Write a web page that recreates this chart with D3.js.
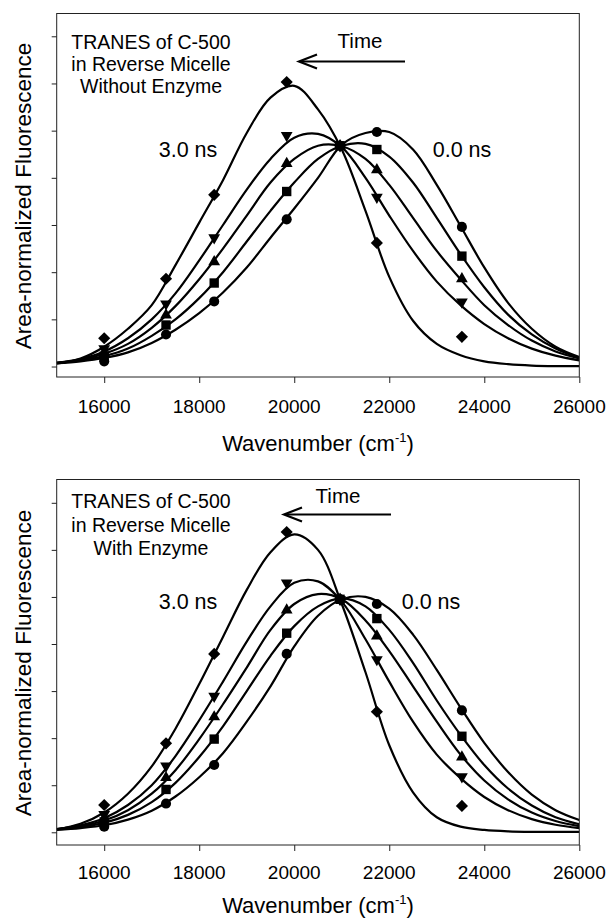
<!DOCTYPE html>
<html>
<head>
<meta charset="utf-8">
<script src="https://cdn.jsdelivr.net/npm/d3@7"></script>
<style>
  html, body { margin: 0; padding: 0; background: #fff; }
  svg { display: block; }
  text { font-family: "Liberation Sans", Arial, sans-serif; fill: #000; }
</style>
</head>
<body>
<svg id="chart" width="610" height="922"></svg>
<script>
// ---- Data -------------------------------------------------------------
// Wavenumbers (cm^-1) at which the time-resolved spectra were sampled
const markerWavenumbers = [16000, 17301, 18315, 19841, 20964, 21739, 23529];
// Wavenumbers used to trace the fitted spectra
const curveWavenumbers = [15000, 15500, 16000, 16500, 17000, 17500, 18000, 18500,
  19000, 19500, 20000, 20500, 21000, 21500, 22000, 22500, 23000, 23500, 24000,
  24500, 25000, 25500, 26000];
const xTickValues = [16000, 18000, 20000, 22000, 24000, 26000];
const yTickValues = [0, 1, 2, 3, 4, 5, 6, 7];
const timeLabels = ["0.0 ns", "3.0 ns"];
const seriesSymbols = ["circle", "square", "triangleUp", "triangleDown", "diamond"];

// Reverse micelle without enzyme: measured points
const noEnzCirclePts   = [0.11, 0.68, 1.38, 3.12, 4.68, 4.97, 2.96];
const noEnzSquarePts   = [0.22, 0.88, 1.77, 3.71, 4.68, 4.60, 2.34];
const noEnzTriUpPts    = [0.30, 1.09, 2.22, 4.30, 4.68, 4.17, 1.86];
const noEnzTriDownPts  = [0.38, 1.33, 2.73, 4.90, 4.68, 3.59, 1.37];
const noEnzDiamondPts  = [0.60, 1.86, 3.64, 6.03, 4.68, 2.62, 0.63];
// Reverse micelle without enzyme: fitted spectra
const noEnzCircleFit   = [0.07,0.11,0.18,0.30,0.50,0.78,1.13,1.57,2.10,2.73,3.35,4.00,4.70,4.95,4.97,4.60,3.85,2.98,2.10,1.35,0.80,0.42,0.20];
const noEnzSquareFit   = [0.08,0.13,0.22,0.38,0.65,1.00,1.45,2.00,2.65,3.30,3.90,4.40,4.68,4.72,4.45,3.90,3.15,2.38,1.68,1.10,0.68,0.38,0.18];
const noEnzTriUpFit    = [0.08,0.14,0.27,0.48,0.82,1.28,1.85,2.50,3.20,3.90,4.40,4.68,4.67,4.40,3.85,3.15,2.45,1.85,1.30,0.88,0.55,0.32,0.17];
const noEnzTriDownFit  = [0.08,0.16,0.32,0.60,1.00,1.55,2.25,3.00,3.75,4.40,4.85,4.93,4.65,4.00,3.20,2.45,1.80,1.30,0.90,0.60,0.38,0.23,0.13];
const noEnzDiamondFit  = [0.06,0.17,0.42,0.80,1.30,2.15,3.05,3.95,4.95,5.70,5.95,5.45,4.60,3.30,1.90,0.97,0.48,0.24,0.11,0.05,0.02,0.01,0.01];

// Reverse micelle with enzyme: measured points
const enzCirclePts   = [0.12, 0.61, 1.43, 3.79, 4.95, 4.85, 2.59];
const enzSquarePts   = [0.22, 0.91, 1.98, 4.23, 4.95, 4.54, 2.04];
const enzTriUpPts    = [0.30, 1.16, 2.45, 4.72, 4.95, 4.17, 1.60];
const enzTriDownPts  = [0.38, 1.41, 2.89, 5.30, 4.95, 3.67, 1.18];
const enzDiamondPts  = [0.58, 1.89, 3.79, 6.38, 4.95, 2.56, 0.56];
// Reverse micelle with enzyme: fitted spectra
const enzCircleFit   = [0.05,0.09,0.15,0.27,0.46,0.76,1.17,1.68,2.35,3.10,3.95,4.60,4.95,5.00,4.75,4.20,3.45,2.65,1.90,1.28,0.80,0.47,0.26];
const enzSquareFit   = [0.06,0.11,0.20,0.37,0.64,1.05,1.60,2.25,3.00,3.75,4.38,4.80,4.97,4.80,4.30,3.60,2.80,2.07,1.43,0.93,0.57,0.32,0.17];
const enzTriUpFit    = [0.07,0.13,0.25,0.47,0.82,1.32,1.98,2.72,3.50,4.30,4.85,5.06,4.95,4.50,3.85,3.10,2.35,1.65,1.10,0.70,0.42,0.24,0.13];
const enzTriDownFit  = [0.07,0.15,0.30,0.58,1.00,1.62,2.38,3.20,4.05,4.80,5.30,5.33,4.90,4.10,3.20,2.35,1.65,1.15,0.75,0.47,0.28,0.16,0.09];
const enzDiamondFit  = [0.06,0.18,0.42,0.82,1.40,2.20,3.15,4.15,5.15,5.95,6.33,6.00,4.85,3.40,1.85,0.85,0.32,0.12,0.05,0.02,0.01,0.01,0.01];

// ---- Panels -----------------------------------------------------------
const panels = [
  {
    caption: ["TRANES of C-500", "in Reverse Micelle", "Without Enzyme"],
    points: [noEnzCirclePts, noEnzSquarePts, noEnzTriUpPts, noEnzTriDownPts, noEnzDiamondPts],
    fits: [noEnzCircleFit, noEnzSquareFit, noEnzTriUpFit, noEnzTriDownFit, noEnzDiamondFit],
    frameTop: 13.5, frameBottom: 377, yDomain: [-0.222, 7.483],
    captionX: 151, captionY: 48.5, captionStep: 22,
    timeX: 360, timeY: 47.5, arrowFrom: 405, arrowTo: 299, arrowY: 61.5,
    lateX: 188, earlyX: 462, nsY: 156.5,
    xTickLabelY: 412.5, xTitleY: 451, yTitleCY: 196
  },
  {
    caption: ["TRANES of C-500", "in Reverse Micelle", "With Enzyme"],
    points: [enzCirclePts, enzSquarePts, enzTriUpPts, enzTriDownPts, enzDiamondPts],
    fits: [enzCircleFit, enzSquareFit, enzTriUpFit, enzTriDownFit, enzDiamondFit],
    frameTop: 479.5, frameBottom: 845, yDomain: [-0.27, 7.495],
    captionX: 151, captionY: 508, captionStep: 23.5,
    timeX: 338, timeY: 503, arrowFrom: 391, arrowTo: 284, arrowY: 514.5,
    lateX: 188, earlyX: 431, nsY: 608.5,
    xTickLabelY: 878.5, xTitleY: 913, yTitleCY: 663
  }
];

const frameLeft = 56.7, frameRight = 579.3;
const svg = d3.select("#chart");

const symbolGen = {
  circle:       d3.symbol().type(d3.symbolCircle).size(80)(),
  square:       d3.symbol().type(d3.symbolSquare).size(88)(),
  triangleUp:   d3.symbol().type(d3.symbolTriangle).size(60)(),
  triangleDown: d3.symbol().type(d3.symbolTriangle).size(60)(),
  diamond:      d3.symbol().type(d3.symbolSquare).size(74)()
};
const symbolRotate = { circle: 0, square: 0, triangleUp: 0, triangleDown: 180, diamond: 45 };

panels.forEach((p, pi) => {
  const x = d3.scaleLinear().domain([15000, 26000]).range([frameLeft, frameRight]);
  const y = d3.scaleLinear().domain(p.yDomain).range([p.frameBottom, p.frameTop]);
  const g = svg.append("g");

  const clipId = "clip" + pi;
  g.append("clipPath").attr("id", clipId)
    .append("rect")
    .attr("x", frameLeft).attr("y", p.frameTop)
    .attr("width", frameRight - frameLeft).attr("height", p.frameBottom - p.frameTop);

  // fitted spectra
  const line = d3.line()
    .x((d, i) => x(curveWavenumbers[i]))
    .y(d => y(d))
    .curve(d3.curveCatmullRom.alpha(0.5));
  g.append("g").attr("clip-path", `url(#${clipId})`)
    .selectAll("path.fit").data(p.fits).join("path")
    .attr("class", "fit")
    .attr("d", line)
    .attr("fill", "none")
    .attr("stroke", "#000")
    .attr("stroke-width", 2.2)
    .attr("stroke-linejoin", "round");

  // measured points
  p.points.forEach((vals, si) => {
    const sym = seriesSymbols[si];
    g.append("g").selectAll("path").data(vals).join("path")
      .attr("d", symbolGen[sym])
      .attr("transform", (d, i) =>
        `translate(${x(markerWavenumbers[i])},${y(d)}) rotate(${symbolRotate[sym]})`)
      .attr("fill", "#000");
  });

  // frame
  g.append("rect")
    .attr("x", frameLeft).attr("y", p.frameTop)
    .attr("width", frameRight - frameLeft).attr("height", p.frameBottom - p.frameTop)
    .attr("fill", "none").attr("stroke", "#222").attr("stroke-width", 1);

  // axes
  const xAxis = d3.axisBottom(x).tickValues(xTickValues).tickSize(6).tickFormat("");
  const gx = g.append("g").attr("transform", `translate(0,${p.frameBottom})`).call(xAxis);
  gx.select(".domain").remove();
  gx.selectAll("line").attr("stroke", "#222");
  g.selectAll("text.xtl").data(xTickValues).join("text")
    .attr("class", "xtl")
    .attr("x", d => x(d)).attr("y", p.xTickLabelY)
    .attr("text-anchor", "middle")
    .attr("font-size", 19)
    .text(d => d);

  const yAxis = d3.axisLeft(y).tickValues(yTickValues).tickSize(5).tickFormat("");
  const gy = g.append("g").attr("transform", `translate(${frameLeft},0)`).call(yAxis);
  gy.select(".domain").remove();
  gy.selectAll("line").attr("stroke", "#222");

  // axis titles
  const xt = g.append("text")
    .attr("x", 318).attr("y", p.xTitleY)
    .attr("text-anchor", "middle").attr("font-size", 22);
  xt.append("tspan").text("Wavenumber (cm");
  xt.append("tspan").attr("dy", -9).attr("font-size", 13).text("-1");
  xt.append("tspan").attr("dy", 9).text(")");

  g.append("text")
    .attr("transform", `translate(30.5,${p.yTitleCY}) rotate(-90)`)
    .attr("text-anchor", "middle").attr("font-size", 22.5)
    .text("Area-normalized Fluorescence");

  // caption
  g.selectAll("text.cap").data(p.caption).join("text")
    .attr("class", "cap")
    .attr("x", p.captionX).attr("y", (d, i) => p.captionY + i * p.captionStep)
    .attr("text-anchor", "middle").attr("font-size", 19.5)
    .text(d => d);

  // time direction
  g.append("text").attr("x", p.timeX).attr("y", p.timeY)
    .attr("text-anchor", "middle").attr("font-size", 20.5).text("Time");
  g.append("line")
    .attr("x1", p.arrowFrom).attr("y1", p.arrowY)
    .attr("x2", p.arrowTo + 1).attr("y2", p.arrowY)
    .attr("stroke", "#000").attr("stroke-width", 2.2);
  g.append("path")
    .attr("d", `M${p.arrowTo + 18},${p.arrowY - 7}L${p.arrowTo},${p.arrowY}L${p.arrowTo + 18},${p.arrowY + 7}`)
    .attr("fill", "none").attr("stroke", "#000").attr("stroke-width", 2.2)
    .attr("stroke-linejoin", "miter");

  g.append("text").attr("x", p.lateX).attr("y", p.nsY)
    .attr("text-anchor", "middle").attr("font-size", 21.5).text(timeLabels[1]);
  g.append("text").attr("x", p.earlyX).attr("y", p.nsY)
    .attr("text-anchor", "middle").attr("font-size", 21.5).text(timeLabels[0]);
});
</script>
</body>
</html>
